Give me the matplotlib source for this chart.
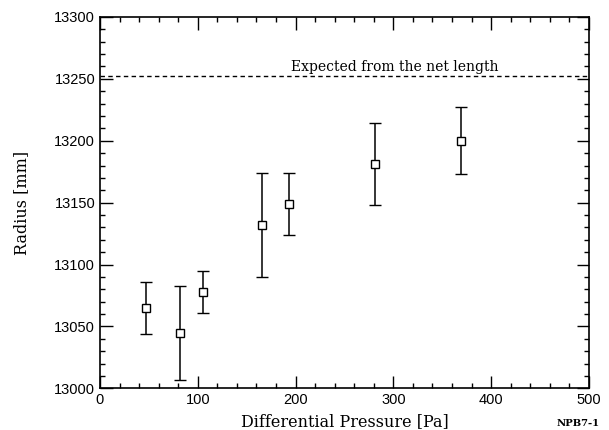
import matplotlib
matplotlib.use("Agg")
import matplotlib.pyplot as plt
from matplotlib.ticker import MultipleLocator

# Data
pressure = [46.8, 81.6, 105.8, 165.8, 193.1, 280.8, 369.2]
radius = [13065, 13045, 13078, 13132, 13149, 13181, 13200]
err_low = [21, 38, 17, 42, 25, 33, 27]
err_high = [21, 38, 17, 42, 25, 33, 27]
expected = 13252

fig = plt.figure(figsize=(6.09, 4.30), dpi=100)
ax = fig.add_axes([0.1642, 0.097, 0.8028, 0.8635])

ax.errorbar(pressure, radius, yerr=[err_low, err_high], fmt="s",
            mfc="white", mec="black", mew=1.0, ms=6,
            ecolor="black", elinewidth=1.1, capsize=4, capthick=1.1)

ax.axhline(expected, color="black", ls=(0, (3.2, 2.4)), lw=1.0)
ax.text(195, expected + 2, "Expected from the net length",
        family="DejaVu Serif", fontsize=10, va="bottom", ha="left")

ax.set_xlim(0, 500)
ax.set_ylim(13000, 13300)
ax.xaxis.set_major_locator(MultipleLocator(100))
ax.xaxis.set_minor_locator(MultipleLocator(20))
ax.yaxis.set_major_locator(MultipleLocator(50))
ax.yaxis.set_minor_locator(MultipleLocator(10))
ax.tick_params(which="both", direction="in", top=True, right=True,
               width=1.0, labelsize=10.5)
ax.tick_params(which="major", length=9)
ax.tick_params(which="minor", length=3.5)
for lab in ax.get_xticklabels() + ax.get_yticklabels():
    lab.set_family("Liberation Sans")
for s in ax.spines.values():
    s.set_linewidth(1.2)

ax.set_xlabel("Differential Pressure [Pa]", family="DejaVu Serif", fontsize=11.5)
ax.set_ylabel("Radius [mm]", family="DejaVu Serif", fontsize=11.5, labelpad=17)

fig.text(0.9146, 0.016, "NPB7-1", family="DejaVu Serif", fontsize=7.2,
         fontweight="bold", ha="left", va="center")

fig.savefig("out.png", dpi=100)
